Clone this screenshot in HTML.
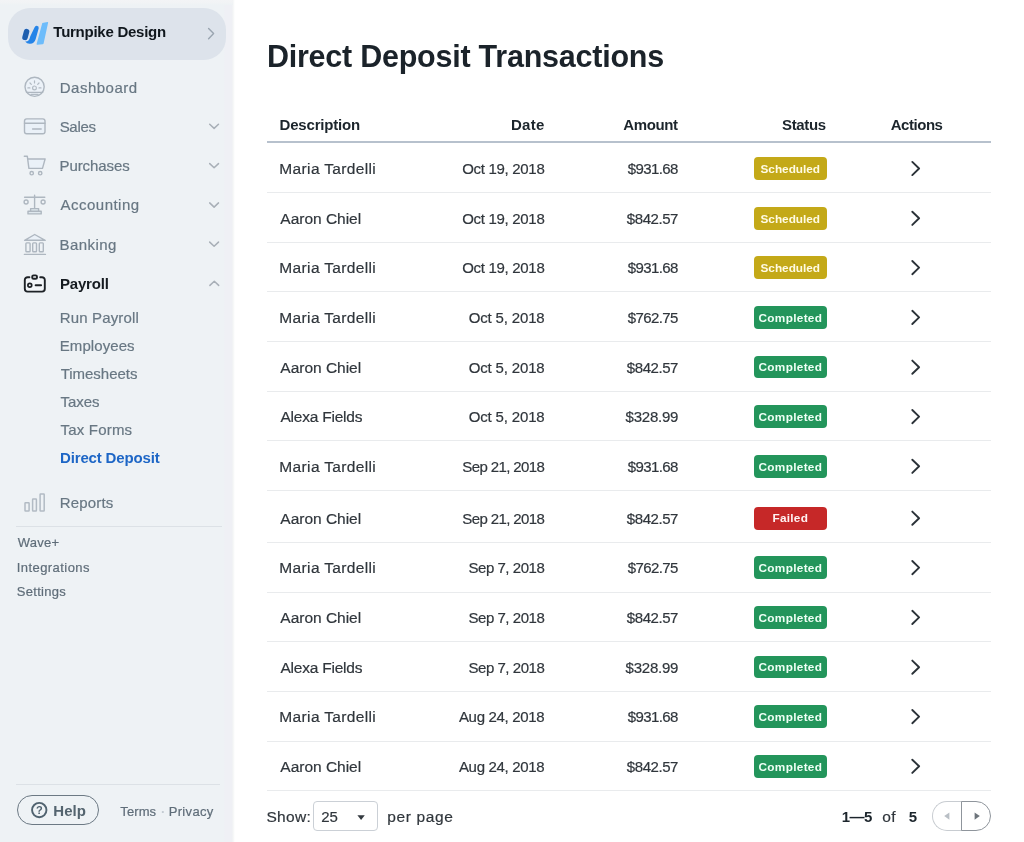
<!DOCTYPE html>
<html lang="en">
<head>
<meta charset="utf-8">
<title>Direct Deposit Transactions</title>
<style>
*{box-sizing:border-box;margin:0;padding:0}
html,body{width:1024px;height:842px;overflow:hidden;background:#fff}
body{font-family:"Liberation Sans",sans-serif;color:#33393f;position:relative}
.t{position:absolute;white-space:nowrap;line-height:20px;font-size:15px;-webkit-text-stroke:0.2px currentColor}
.t.b{-webkit-text-stroke:0}
.b{font-weight:700}
#side{position:absolute;left:0;top:0;width:235px;height:842px;background:linear-gradient(90deg,#eef2f5 0,#eef2f5 223.5px,#eff0f5 225px,#eff0f5 231.6px,#f3f5f5 233px,#fbfcfc 234.2px,#fff 235px)}
#topband{position:absolute;left:0;top:0;width:233px;height:5px;background:linear-gradient(#f3f4f6,#f1f3f5 60%,#eef2f5)}
#pill{position:absolute;left:8px;top:8.2px;width:217.8px;height:51.4px;border-radius:22px;background:#dde3eb}
.hr{position:absolute;height:1px;background:#dce1e6}
#help{position:absolute;left:16.9px;top:795.1px;width:82.2px;height:29.8px;border:1.4px solid #6c7984;border-radius:15px}
#hline{position:absolute;left:266.8px;top:141.3px;width:724.6px;height:1.6px;background:#b7c1cd}
.rl{position:absolute;left:266.8px;width:724.6px;height:1px;background:#e9ebed}
.bg{position:absolute;left:753.7px;width:72.9px;height:22.5px;border-radius:4px}
#sel{position:absolute;left:312.5px;top:801.1px;width:65.1px;height:29.6px;border:1px solid #cbd0d6;border-radius:4px;background:#fff}
#pagl{position:absolute;left:932.3px;top:800.9px;width:29.5px;height:30px;border:1px solid #c8ccd1;border-right:none;border-radius:15px 0 0 15px;background:#fff}
#pagr{position:absolute;left:961px;top:800.9px;width:30px;height:30px;border:1px solid #8f959c;border-radius:0 15px 15px 0;background:#fff}
svg{position:absolute;left:0;top:0;overflow:visible}
ul{list-style:none}
a{text-decoration:none}
h1{font-weight:700}
</style>
</head>
<body>
<div id="side"></div>
<div id="topband"></div>
<div id="pill"></div>
<div class="hr" style="left:16px;top:526px;width:206px"></div>
<div class="hr" style="left:16px;top:784px;width:204px"></div>
<div id="help"></div>
<div id="hline"></div>
<aside>
<header>
<span class="t b" style="left:53.35px;top:22px;letter-spacing:-0.26px;color:#10171d">Turnpike Design</span>
</header>
<nav>
<a class="t" style="left:59.70px;top:78px;letter-spacing:0.51px;color:#687783">Dashboard</a>
<a class="t" style="left:59.66px;top:117px;letter-spacing:-0.31px;color:#687783">Sales</a>
<a class="t" style="left:59.55px;top:156px;letter-spacing:-0.09px;color:#687783">Purchases</a>
<a class="t" style="left:60.60px;top:195px;letter-spacing:0.47px;color:#687783">Accounting</a>
<a class="t" style="left:59.51px;top:235px;letter-spacing:0.43px;color:#687783">Banking</a>
<a class="t b" style="left:59.88px;top:274px;letter-spacing:-0.15px;color:#151b20">Payroll</a>
<ul>
<li><a class="t" style="left:59.82px;top:308px;letter-spacing:0.14px;color:#687783">Run Payroll</a></li>
<li><a class="t" style="left:59.79px;top:336px;letter-spacing:0.08px;color:#687783">Employees</a></li>
<li><a class="t" style="left:60.66px;top:364px;letter-spacing:-0.02px;color:#687783">Timesheets</a></li>
<li><a class="t" style="left:60.62px;top:392px;letter-spacing:-0.07px;color:#687783">Taxes</a></li>
<li><a class="t" style="left:60.62px;top:420px;letter-spacing:0.18px;color:#687783">Tax Forms</a></li>
<li><a class="t b" style="left:60.05px;top:448px;letter-spacing:-0.16px;color:#1d66c6">Direct Deposit</a></li>
</ul>
<a class="t" style="left:59.68px;top:493px;letter-spacing:0.18px;color:#687783">Reports</a>
</nav>
<nav>
<a class="t" style="left:17.67px;top:533px;font-size:13px;letter-spacing:0.25px;color:#5f6d79">Wave+</a>
<a class="t" style="left:16.74px;top:558px;font-size:13px;letter-spacing:0.44px;color:#5f6d79">Integrations</a>
<a class="t" style="left:16.87px;top:582px;font-size:13px;letter-spacing:0.26px;color:#5f6d79">Settings</a>
</nav>
<footer>
<span class="t b" style="left:35.90px;top:803px;font-size:11px;line-height:14px;color:#50626f">?</span>
<span class="t b" style="left:53.31px;top:801px;letter-spacing:0.03px;color:#54646f">Help</span>
<span class="t" style="left:120.37px;top:802px;font-size:13px;letter-spacing:0.08px;color:#5f6d79">Terms</span>
<span class="t b" style="left:160.90px;top:802px;font-size:13px;color:#c3cbd2">·</span>
<span class="t" style="left:168.65px;top:802px;font-size:13px;letter-spacing:0.35px;color:#5f6d79">Privacy</span>
</footer>
</aside>
<main>
<h1 class="t b" style="left:266.97px;top:36px;font-size:30.5px;line-height:40px;letter-spacing:-0.24px;color:#1b232a">Direct Deposit Transactions</h1>
<section>
<div class="thead">
<span class="t b" style="left:279.54px;top:115px;letter-spacing:-0.19px;color:#1c252c">Description</span>
<span class="t b" style="left:510.91px;top:115px;letter-spacing:0.34px;color:#1c252c">Date</span>
<span class="t b" style="left:623.28px;top:115px;letter-spacing:-0.38px;color:#1c252c">Amount</span>
<span class="t b" style="left:782.09px;top:115px;letter-spacing:-0.36px;color:#1c252c">Status</span>
<span class="t b" style="left:890.73px;top:115px;letter-spacing:-0.46px;color:#1c252c">Actions</span>
</div>
<div class="tr">
<span class="t" style="left:279.36px;top:159px;font-size:15.5px;letter-spacing:0.35px;color:#30363c">Maria Tardelli</span>
<span class="t" style="left:462.28px;top:159px;letter-spacing:-0.31px;color:#30363c">Oct 19, 2018</span>
<span class="t" style="left:627.74px;top:159px;letter-spacing:-0.59px;color:#30363c">$931.68</span>
<span class="bg" style="top:157.2px;background:#c4a918"></span>
<span class="t b" style="left:760.51px;top:161px;font-size:11.8px;line-height:16px;letter-spacing:-0.01px;color:#fffbe3">Scheduled</span>
<div class="rl" style="top:192.1px"></div>
</div>
<div class="tr">
<span class="t" style="left:280.35px;top:209px;font-size:15.5px;letter-spacing:-0.02px;color:#30363c">Aaron Chiel</span>
<span class="t" style="left:462.28px;top:209px;letter-spacing:-0.31px;color:#30363c">Oct 19, 2018</span>
<span class="t" style="left:626.83px;top:209px;letter-spacing:-0.44px;color:#30363c">$842.57</span>
<span class="bg" style="top:207.0px;background:#c4a918"></span>
<span class="t b" style="left:760.51px;top:211px;font-size:11.8px;line-height:16px;letter-spacing:-0.01px;color:#fffbe3">Scheduled</span>
<div class="rl" style="top:241.8px"></div>
</div>
<div class="tr">
<span class="t" style="left:279.36px;top:258px;font-size:15.5px;letter-spacing:0.35px;color:#30363c">Maria Tardelli</span>
<span class="t" style="left:462.28px;top:258px;letter-spacing:-0.31px;color:#30363c">Oct 19, 2018</span>
<span class="t" style="left:627.74px;top:258px;letter-spacing:-0.59px;color:#30363c">$931.68</span>
<span class="bg" style="top:256.3px;background:#c4a918"></span>
<span class="t b" style="left:760.51px;top:260px;font-size:11.8px;line-height:16px;letter-spacing:-0.01px;color:#fffbe3">Scheduled</span>
<div class="rl" style="top:291.4px"></div>
</div>
<div class="tr">
<span class="t" style="left:279.36px;top:308px;font-size:15.5px;letter-spacing:0.35px;color:#30363c">Maria Tardelli</span>
<span class="t" style="left:468.65px;top:308px;letter-spacing:-0.15px;color:#30363c">Oct 5, 2018</span>
<span class="t" style="left:627.71px;top:308px;letter-spacing:-0.60px;color:#30363c">$762.75</span>
<span class="bg" style="top:306.1px;background:#23955b"></span>
<span class="t b" style="left:758.53px;top:310px;font-size:11.8px;line-height:16px;letter-spacing:0.31px;color:#effff6">Completed</span>
<div class="rl" style="top:341.0px"></div>
</div>
<div class="tr">
<span class="t" style="left:280.35px;top:358px;font-size:15.5px;letter-spacing:-0.02px;color:#30363c">Aaron Chiel</span>
<span class="t" style="left:468.65px;top:358px;letter-spacing:-0.15px;color:#30363c">Oct 5, 2018</span>
<span class="t" style="left:626.83px;top:358px;letter-spacing:-0.44px;color:#30363c">$842.57</span>
<span class="bg" style="top:355.9px;background:#23955b"></span>
<span class="t b" style="left:758.53px;top:359px;font-size:11.8px;line-height:16px;letter-spacing:0.31px;color:#effff6">Completed</span>
<div class="rl" style="top:390.6px"></div>
</div>
<div class="tr">
<span class="t" style="left:280.40px;top:407px;font-size:15.5px;letter-spacing:-0.21px;color:#30363c">Alexa Fields</span>
<span class="t" style="left:468.65px;top:407px;letter-spacing:-0.15px;color:#30363c">Oct 5, 2018</span>
<span class="t" style="left:625.59px;top:407px;letter-spacing:-0.23px;color:#30363c">$328.99</span>
<span class="bg" style="top:405.3px;background:#23955b"></span>
<span class="t b" style="left:758.53px;top:409px;font-size:11.8px;line-height:16px;letter-spacing:0.31px;color:#effff6">Completed</span>
<div class="rl" style="top:440.2px"></div>
</div>
<div class="tr">
<span class="t" style="left:279.36px;top:457px;font-size:15.5px;letter-spacing:0.35px;color:#30363c">Maria Tardelli</span>
<span class="t" style="left:462.33px;top:457px;letter-spacing:-0.62px;color:#30363c">Sep 21, 2018</span>
<span class="t" style="left:627.74px;top:457px;letter-spacing:-0.59px;color:#30363c">$931.68</span>
<span class="bg" style="top:455.0px;background:#23955b"></span>
<span class="t b" style="left:758.53px;top:459px;font-size:11.8px;line-height:16px;letter-spacing:0.31px;color:#effff6">Completed</span>
<div class="rl" style="top:489.9px"></div>
</div>
<div class="tr">
<span class="t" style="left:280.35px;top:509px;font-size:15.5px;letter-spacing:-0.02px;color:#30363c">Aaron Chiel</span>
<span class="t" style="left:462.33px;top:509px;letter-spacing:-0.62px;color:#30363c">Sep 21, 2018</span>
<span class="t" style="left:626.83px;top:509px;letter-spacing:-0.44px;color:#30363c">$842.57</span>
<span class="bg" style="top:507.0px;background:#c62828"></span>
<span class="t b" style="left:772.42px;top:510px;font-size:11.8px;line-height:16px;letter-spacing:0.27px;color:#fff3f3">Failed</span>
<div class="rl" style="top:542.0px"></div>
</div>
<div class="tr">
<span class="t" style="left:279.36px;top:558px;font-size:15.5px;letter-spacing:0.35px;color:#30363c">Maria Tardelli</span>
<span class="t" style="left:468.48px;top:558px;letter-spacing:-0.46px;color:#30363c">Sep 7, 2018</span>
<span class="t" style="left:627.71px;top:558px;letter-spacing:-0.60px;color:#30363c">$762.75</span>
<span class="bg" style="top:556.3px;background:#23955b"></span>
<span class="t b" style="left:758.53px;top:560px;font-size:11.8px;line-height:16px;letter-spacing:0.31px;color:#effff6">Completed</span>
<div class="rl" style="top:591.6px"></div>
</div>
<div class="tr">
<span class="t" style="left:280.35px;top:608px;font-size:15.5px;letter-spacing:-0.02px;color:#30363c">Aaron Chiel</span>
<span class="t" style="left:468.48px;top:608px;letter-spacing:-0.46px;color:#30363c">Sep 7, 2018</span>
<span class="t" style="left:626.83px;top:608px;letter-spacing:-0.44px;color:#30363c">$842.57</span>
<span class="bg" style="top:606.1px;background:#23955b"></span>
<span class="t b" style="left:758.53px;top:610px;font-size:11.8px;line-height:16px;letter-spacing:0.31px;color:#effff6">Completed</span>
<div class="rl" style="top:641.2px"></div>
</div>
<div class="tr">
<span class="t" style="left:280.40px;top:658px;font-size:15.5px;letter-spacing:-0.21px;color:#30363c">Alexa Fields</span>
<span class="t" style="left:468.48px;top:658px;letter-spacing:-0.46px;color:#30363c">Sep 7, 2018</span>
<span class="t" style="left:625.59px;top:658px;letter-spacing:-0.23px;color:#30363c">$328.99</span>
<span class="bg" style="top:655.9px;background:#23955b"></span>
<span class="t b" style="left:758.53px;top:659px;font-size:11.8px;line-height:16px;letter-spacing:0.31px;color:#effff6">Completed</span>
<div class="rl" style="top:690.9px"></div>
</div>
<div class="tr">
<span class="t" style="left:279.36px;top:707px;font-size:15.5px;letter-spacing:0.35px;color:#30363c">Maria Tardelli</span>
<span class="t" style="left:458.94px;top:707px;letter-spacing:-0.32px;color:#30363c">Aug 24, 2018</span>
<span class="t" style="left:627.74px;top:707px;letter-spacing:-0.59px;color:#30363c">$931.68</span>
<span class="bg" style="top:705.3px;background:#23955b"></span>
<span class="t b" style="left:758.53px;top:709px;font-size:11.8px;line-height:16px;letter-spacing:0.31px;color:#effff6">Completed</span>
<div class="rl" style="top:740.5px"></div>
</div>
<div class="tr">
<span class="t" style="left:280.35px;top:757px;font-size:15.5px;letter-spacing:-0.02px;color:#30363c">Aaron Chiel</span>
<span class="t" style="left:458.94px;top:757px;letter-spacing:-0.32px;color:#30363c">Aug 24, 2018</span>
<span class="t" style="left:626.83px;top:757px;letter-spacing:-0.44px;color:#30363c">$842.57</span>
<span class="bg" style="top:755.0px;background:#23955b"></span>
<span class="t b" style="left:758.53px;top:759px;font-size:11.8px;line-height:16px;letter-spacing:0.31px;color:#effff6">Completed</span>
<div class="rl" style="top:790.1px"></div>
</div>
</section>
<footer>
<span class="t" style="left:266.43px;top:807px;font-size:15.5px;letter-spacing:0.31px;color:#30363c">Show:</span>
<div id="sel"></div>
<span class="t" style="left:321.14px;top:807px;letter-spacing:0.04px;color:#30363c">25</span>
<span class="t" style="left:387.24px;top:807px;font-size:15.5px;letter-spacing:0.64px;color:#30363c">per page</span>
<span class="t b" style="left:841.65px;top:807px;letter-spacing:-0.55px;color:#1c252c">1—5</span>
<span class="t" style="left:882.33px;top:807px;font-size:15.5px;letter-spacing:0.41px;color:#30363c">of</span>
<span class="t b" style="left:908.68px;top:807px;color:#1c252c">5</span>
<div id="pagl"></div>
<div id="pagr"></div>
</footer>
</main>
<svg width="1024" height="842" viewBox="0 0 1024 842" fill="none" stroke-linecap="round" stroke-linejoin="round">
<!-- logo -->
<path d="M42.3 22.9 L47.5 22.1 Q48.3 22 48.100 22.800 L43.6 43.4 Q43.4 44.1 42.6 44.2 L37.3 44.7 Q36.4 44.8 36.6 44 Z" fill="#6dbcfb" stroke="none"/>
<path d="M34.500 27.500 Q35.2 25.700 36.800 25.800 Q39.100 26.100 38.700 28.200 L35.700 38.900 Q34.4 43.4 30.100 43.800 Q26.900 44 25.2 41.500 Q27.5 41.700 28.700 40.2 Q29.700 38.700 30.300 36.2 Z" fill="#2584e8" stroke="none"/>
<path d="M26.600 31.600 L25 37.400" stroke="#d9e7f9" stroke-width="6.900" fill="none"/>
<path d="M26.600 31.600 L25 37.400" stroke="#1f5fae" stroke-width="5.500" fill="none"/>
<!-- company chevron -->
<path d="M208.6 28.4 L213.6 33.6 L208.6 38.8" stroke="#9aa5b0" stroke-width="1.4"/>
<!-- dashboard -->
<g stroke="#aeb7c0" stroke-width="1.4">
<circle cx="34.6" cy="86.8" r="9.6" fill="#ecf2f8"/>
<path d="M26.500 92.400h16.200"/>
<g stroke-width="1.200" stroke="#b1bac3">
<circle cx="34.5" cy="87.9" r="1.900"/>
<path d="M34.5 80.800v2.200M30 83l1.300 1.300M39 83l-1.300 1.300M27.900 87.900h2M39 87.900h2M31 94.300h7.200"/>
</g>
</g>
<!-- sales -->
<g stroke="#aeb7c0" stroke-width="1.4">
<rect x="24.5" y="118.9" width="20.5" height="14.8" rx="2.2" fill="#eaf1f8"/>
<path d="M24.5 123.3h20.5M32.6 129h8.6"/>
</g>
<!-- purchases -->
<g stroke="#aeb7c0" stroke-width="1.4">
<path d="M28.2 159l0.800 9.400h13.600l2.600-9.400z" fill="#eaf1f8" stroke="none"/><path d="M24.3 156.2h3l1.6 12.2h13.6l2.6-9.4h-16.6"/>
<circle cx="31.7" cy="173.200" r="1.700"/>
<circle cx="40.2" cy="173.200" r="1.700"/>
</g>
<!-- accounting -->
<g stroke="#aeb7c0" stroke-width="1.4">
<path d="M24.6 197.2h20.2M34.6 195.3v13"/>
<circle cx="26.1" cy="202" r="2"/>
<circle cx="43.1" cy="202" r="2"/>
<path d="M30.6 208.6h8v2.6h-8zM28 211.3h13.2v2.6h-13.2z" fill="#dfe8ee"/>
</g>
<!-- banking -->
<g stroke="#aeb7c0" stroke-width="1.4">
<path d="M24.6 240.3L34.7 234.5L45.2 240.3Z" fill="#eaf1f8"/>
<rect x="25.9" y="242.9" width="4.2" height="8.8" rx="0.8"/>
<rect x="32.7" y="242.9" width="3.8" height="8.8" rx="0.8"/>
<rect x="39.3" y="242.9" width="4" height="8.8" rx="0.8"/>
<path d="M24.4 254.4h21"/>
</g>
<!-- payroll -->
<rect x="24.8" y="277.2" width="20" height="14.4" rx="2.8" fill="#f3f6f9" stroke="none"/>
<g stroke="#1d2226" stroke-width="1.900">
<path d="M29.4 277.2h-1.8a2.8 2.8 0 0 0-2.8 2.8v8.8a2.8 2.8 0 0 0 2.8 2.8h14.4a2.8 2.8 0 0 0 2.8-2.8v-8.800a2.8 2.8 0 0 0-2.8-2.8h-1.800"/>
<rect x="32.2" y="275.4" width="4.8" height="3.400" rx="1.4" fill="#f3f6f9"/>
<circle cx="29.8" cy="285.3" r="1.900" stroke-width="1.700"/>
<path d="M35.6 285.3h5.500"/>
</g>
<!-- reports -->
<g stroke="#b2bbc4" stroke-width="1.5">
<rect x="25" y="502.8" width="4.1" height="8.100" rx="0.5"/>
<rect x="32.6" y="498.9" width="3.8" height="12" rx="0.5"/>
<rect x="40.1" y="493.900" width="4.1" height="17" rx="0.5"/>
</g>
<!-- nav chevrons -->
<g stroke="#a8afb7" stroke-width="1.5">
<path d="M209.700 124.200l4.400 4.200l4.400-4.200"/>
<path d="M209.700 163.600l4.400 4.200l4.400-4.200"/>
<path d="M209.700 202.900l4.400 4.200l4.400-4.200"/>
<path d="M209.700 242.100l4.400 4.200l4.400-4.200"/>
<path d="M209.900 285.400l4.400-4.200l4.400 4.200"/>
</g>
<!-- help icon -->
<circle cx="39.250" cy="810.1" r="7.200" stroke="#50626f" stroke-width="1.900"/>
<!-- row chevrons placeholder -->
<g stroke="#2b3238" stroke-width="1.9"><path d="M912.3 161.9l6.8 6.6l-6.8 6.6"/><path d="M912.3 211.7l6.8 6.6l-6.8 6.6"/><path d="M912.3 261.0l6.8 6.6l-6.8 6.6"/><path d="M912.3 310.8l6.8 6.6l-6.8 6.6"/><path d="M912.3 360.6l6.8 6.6l-6.8 6.6"/><path d="M912.3 410.0l6.8 6.6l-6.8 6.6"/><path d="M912.3 459.7l6.8 6.6l-6.8 6.6"/><path d="M912.3 511.6l6.8 6.6l-6.8 6.6"/><path d="M912.3 561.0l6.8 6.6l-6.8 6.6"/><path d="M912.3 610.8l6.8 6.6l-6.8 6.6"/><path d="M912.3 660.6l6.8 6.6l-6.8 6.6"/><path d="M912.3 710.0l6.8 6.6l-6.8 6.6"/><path d="M912.3 759.7l6.8 6.6l-6.8 6.6"/></g>
<!-- select caret -->
<path d="M357.400 815.300h7.400l-3.700 4.600z" fill="#33393f" stroke="none"/>
<!-- pagination arrows -->
<path d="M949.400 812.400v7.400l-5.200-3.700z" fill="#b9bfc5" stroke="none"/>
<path d="M974.600 812.400v7.400l5.200-3.700z" fill="#6d747b" stroke="none"/>
</svg>
</body>
</html>
